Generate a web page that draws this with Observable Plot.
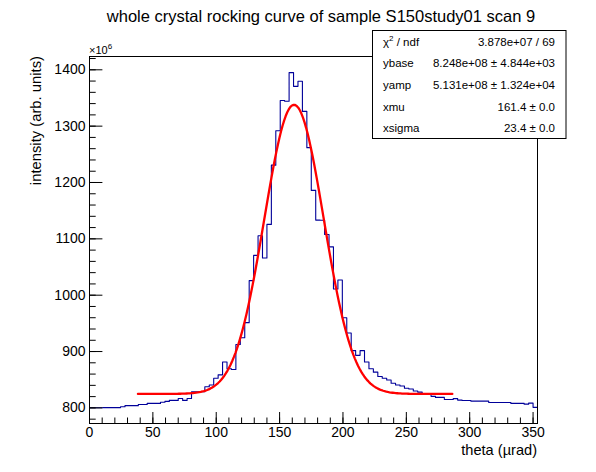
<!DOCTYPE html>
<html><head><meta charset="utf-8">
<script src="https://cdn.jsdelivr.net/npm/d3@7"></script>
<script src="https://cdn.jsdelivr.net/npm/@observablehq/plot@0.6"></script>
<style>
body{margin:0;background:#fff}
#chart{width:596px;height:472px}
</style>
</head><body><div id="chart"></div>
<script>
// histogram: 101 bins of 3.5 µrad starting at 0 (values in units of 1e6)
const binLow = 0;
const binWidth = 3.5;
const counts = [
  800.3, 800.3, 800.3, 800.4, 800.4, 800.5, 800.5, 802, 804, 804,
  804, 806, 806, 808, 808, 808, 810, 811.5, 813.3, 813.3,
  816.8, 813.3, 816.8, 828.7, 828.7, 828.7, 837.6, 840.7, 852.7, 858.6,
  881.4, 869.5, 868, 912.4, 924.4, 951.3, 1025.8, 1070.6, 1105.4, 1066,
  1125.6, 1230.8, 1291.8, 1345.5, 1344.3, 1395, 1370.6, 1379.6, 1326.3, 1261.8,
  1186, 1133.3, 1133, 1107.7, 1085.7, 1010.9, 1027, 960, 933, 901.6,
  893.2, 901.6, 881.4, 869.4, 863.4, 855.6, 852.7, 849.6, 843.7, 840.7,
  838.9, 834.8, 833.5, 830, 828, 824.5, 824.5, 820.5, 818.6, 818.6,
  815, 815, 816.5, 813.8, 813, 813, 812, 812, 812, 812,
  809.7, 809.7, 809.7, 809.7, 809.7, 808, 808, 808, 806.6, 808.5,
  801
];
// Gaussian fit (values as shown in the stats box, y in units of 1e6)
const fitYbase = 824.8;
const fitYamp = 513.1;
const fitXmu = 161.4;
const fitXsigma = 23.4;
const fitRange = [38.2, 286.3];

const xDomain = [0, 353.5];
const yDomain = [772.3, 1423.6];
const xMajorTicks = [0, 50, 100, 150, 200, 250, 300, 350];
const xMinorTicks = d3.range(0, 351, 10);
const yMajorTicks = [800, 900, 1000, 1100, 1200, 1300, 1400];
const yMinorTicks = d3.range(780, 1421, 20);

const titleText = "whole crystal rocking curve of sample S150study01 scan 9";
const xTitle = "theta (µrad)";
const yTitle = "intensity (arb. units)";
const statNames = ["χ2 / ndf", "ybase", "yamp", "xmu", "xsigma"];
const statValues = ["3.878e+07 / 69", "8.248e+08 ± 4.844e+03", "5.131e+08 ± 1.324e+04", "161.4 ± 0.0", "23.4 ± 0.0"];

const hist = counts.map((c, i) => ({x: binLow + i * binWidth, y: c}));
hist.push({x: binLow + counts.length * binWidth, y: counts[counts.length - 1]});

const nFit = 200;
const fit = d3.range(nFit + 1).map(i => {
  const x = fitRange[0] + (fitRange[1] - fitRange[0]) * i / nFit;
  return {x, y: fitYbase + fitYamp * Math.exp(-0.5 * ((x - fitXmu) / fitXsigma) ** 2)};
});

const font = "'Liberation Sans', Arial, Helvetica, sans-serif";
const W = 596, H = 472, mL = 89, mR = 59, mT = 56, mB = 49;
const plain = d => String(d);

const svg = Plot.plot({
  width: W, height: H,
  marginLeft: mL, marginRight: mR, marginTop: mT, marginBottom: mB,
  x: {domain: xDomain},
  y: {domain: yDomain},
  style: {fontFamily: font, fontSize: "14px", background: "white", color: "black", overflow: "visible"},
  marks: [
    Plot.line(hist, {x: "x", y: "y", curve: "step-after", stroke: "#000099", strokeWidth: 1.1}),
    Plot.line(fit, {x: "x", y: "y", stroke: "#ff0000", strokeWidth: 2.3}),
    Plot.frame({stroke: "black", strokeWidth: 1}),
    Plot.axisX({ticks: xMajorTicks, tickSize: 0, tickPadding: 4, tickFormat: plain, label: null, fontSize: 14}),
    Plot.axisX({ticks: xMajorTicks, tickSize: -11, tickFormat: () => "", label: null}),
    Plot.axisX({ticks: xMinorTicks, tickSize: -5.5, tickFormat: () => "", label: null}),
    Plot.axisY({ticks: yMajorTicks, tickSize: 0, tickPadding: 4, tickFormat: plain, label: null, fontSize: 14}),
    Plot.axisY({ticks: yMajorTicks, tickSize: -13.4, tickFormat: () => "", label: null}),
    Plot.axisY({ticks: yMinorTicks, tickSize: -6.7, tickFormat: () => "", label: null})
  ]
});
document.getElementById("chart").appendChild(svg);

const s = d3.select(svg);
const g = s.append("g").attr("font-family", font).attr("fill", "black").attr("text-anchor", "start");

g.append("text").attr("x", 321).attr("y", 22).attr("text-anchor", "middle")
  .attr("font-size", 16.5).text(titleText);

const mult = g.append("text").attr("x", mL).attr("y", 53.5).attr("text-anchor", "start").attr("font-size", 11);
mult.append("tspan").text("×10");
mult.append("tspan").attr("font-size", 8).attr("dy", -4.5).text("6");

g.append("text").attr("x", W - mR).attr("y", 455).attr("text-anchor", "end")
  .attr("font-size", 14.6).text(xTitle);
g.append("text").attr("transform", `translate(41,${mT}) rotate(-90)`).attr("text-anchor", "end")
  .attr("font-size", 14.8).text(yTitle);

// stats box
const bx = 372.5, by = 30.5, bw = 193.5, bh = 108;
g.append("rect").attr("x", bx).attr("y", by).attr("width", bw).attr("height", bh)
  .attr("fill", "white").attr("stroke", "black").attr("stroke-width", 1);
const rowH = bh / statNames.length;
statNames.forEach((name, i) => {
  const yb = by + rowH * (i + 0.5) + 4.5;
  const t = g.append("text").attr("x", bx + 10.5).attr("y", yb).attr("text-anchor", "start").attr("font-size", 11.5);
  if (i === 0) {
    t.append("tspan").text("χ");
    t.append("tspan").attr("font-size", 8).attr("dy", -5).text("2");
    t.append("tspan").attr("dy", 5).text(" / ndf");
  } else {
    t.text(name);
  }
  g.append("text").attr("x", bx + bw - 11).attr("y", yb).attr("text-anchor", "end")
    .attr("font-size", 11.5).text(statValues[i]);
});
</script>
</body></html>
